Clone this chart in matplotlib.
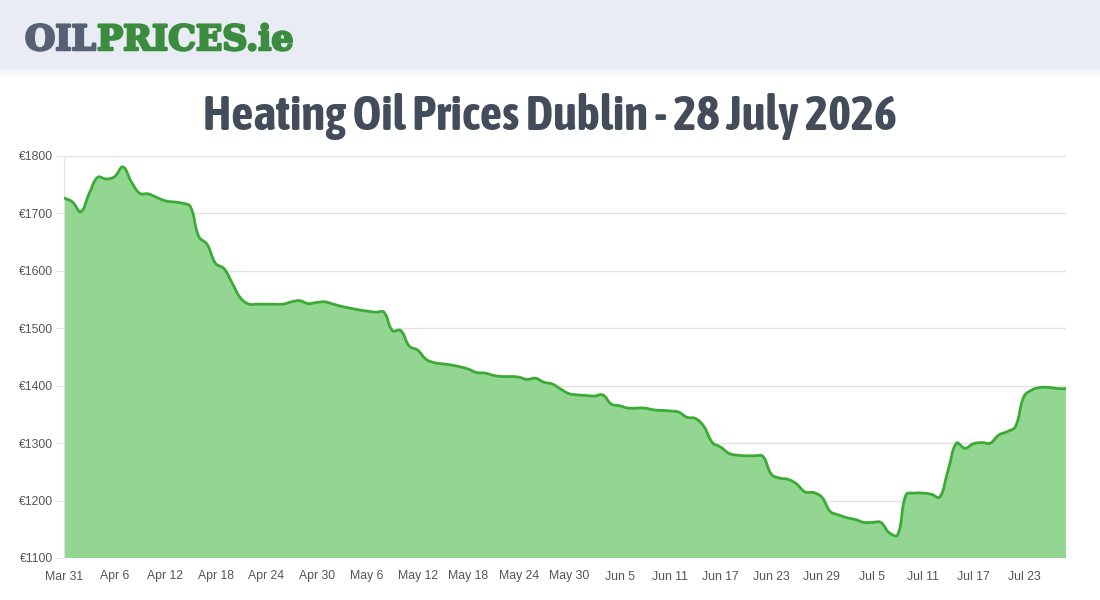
import numpy as np
import pandas as pd
import matplotlib
matplotlib.use("Agg")
import matplotlib.pyplot as plt
from matplotlib import font_manager, patheffects
from matplotlib.patches import Rectangle, PathPatch
from matplotlib.path import Path

# daily prices, Mar 31 -> Jul 28 2026
dates = pd.date_range("2026-03-31", "2026-07-28", freq="D")
prices = [
    1727, 1720, 1703, 1735, 1763, 1760, 1764, 1781, 1755, 1735,
    1734, 1728, 1722, 1720, 1718, 1712, 1660, 1646, 1613, 1604,
    1578, 1552, 1542, 1542, 1542, 1542, 1542, 1546, 1548, 1543,
    1545, 1546, 1542, 1538, 1535, 1532, 1530, 1528, 1528, 1496,
    1496, 1469, 1462, 1446, 1440, 1438, 1436, 1433, 1429, 1423,
    1422, 1418, 1416, 1416, 1415, 1411, 1413, 1406, 1403, 1394,
    1386, 1384, 1383, 1382, 1384, 1368, 1365, 1361, 1361, 1361,
    1358, 1357, 1356, 1354, 1345, 1343, 1329, 1301, 1293, 1282,
    1279, 1278, 1278, 1277, 1246, 1239, 1237, 1229, 1215, 1214,
    1206, 1181, 1175, 1170, 1167, 1162, 1162, 1162, 1144, 1140,
    1210, 1213, 1213, 1211, 1206, 1253, 1300, 1291, 1299, 1301,
    1300, 1314, 1320, 1329, 1381, 1393, 1397, 1397, 1395, 1395,
]
tick_step = 6
y_ticks = [1100, 1200, 1300, 1400, 1500, 1600, 1700, 1800]

W, H = 1100, 600
X0, X1, Y0, Y1 = 64, 1066, 156, 558  # plot area in pixels


def pick_narrow():
    # look for a condensed / narrow face among installed fonts
    for f in font_manager.fontManager.ttflist:
        n = f.name.lower()
        if ("narrow" in n or "condensed" in n) and f.weight in ("bold", 700):
            return f.name, f.stretch
    for f in font_manager.fontManager.ttflist:
        if str(f.stretch) in ("condensed", "semi-condensed", "extra-condensed") or \
                (isinstance(f.stretch, int) and f.stretch < 500):
            return f.name, f.stretch
    return "DejaVu Sans", "normal"


def smooth_path(xs, ys, sx, sy, tension=0.4):
    # chart.js style bezier through the points (distances measured in pixels)
    px, py = np.asarray(xs, float) * sx, np.asarray(ys, float) * sy
    n = len(px)
    cp_prev, cp_next = [], []
    for i in range(n):
        p0 = (px[max(i - 1, 0)], py[max(i - 1, 0)])
        p2 = (px[min(i + 1, n - 1)], py[min(i + 1, n - 1)])
        d01 = np.hypot(px[i] - p0[0], py[i] - p0[1])
        d12 = np.hypot(p2[0] - px[i], p2[1] - py[i])
        s = d01 + d12 if d01 + d12 else 1
        fa, fb = tension * d01 / s, tension * d12 / s
        cp_prev.append((px[i] - fa * (p2[0] - p0[0]), py[i] - fa * (p2[1] - p0[1])))
        cp_next.append((px[i] + fb * (p2[0] - p0[0]), py[i] + fb * (p2[1] - p0[1])))
    verts = [(px[0], py[0])]
    codes = [Path.MOVETO]
    for i in range(1, n):
        verts += [cp_next[i - 1], cp_prev[i], (px[i], py[i])]
        codes += [Path.CURVE4] * 3
    verts = [(a / sx, b / sy) for a, b in verts]
    return verts, codes


fig = plt.figure(figsize=(W / 100, H / 100), dpi=100)
fig.patch.set_facecolor("white")

# header band with soft shadow
for k in range(10):
    fig.patches.append(Rectangle((0, 1 - (70 + k) / H), 1, 1 / H, transform=fig.transFigure,
                                 facecolor="#cfd3dc", alpha=0.25 * (1 - k / 10), edgecolor="none"))
fig.patches.append(Rectangle((0, 1 - 70 / H), 1, 70 / H, transform=fig.transFigure,
                             facecolor="#e9ecf4", edgecolor="none"))

logo_font = dict(family=["DejaVu Serif"], weight="bold", size=25, va="center", ha="left")
t1 = fig.text(25 / W, 1 - 40 / H, "OIL", color="#576173", **logo_font)
fig.canvas.draw()
bb = t1.get_window_extent()
t2 = fig.text(bb.x1 / W + 1 / W, 1 - 40 / H, "PRICES.ie", color="#3b8c3f", **logo_font)
t1.set_path_effects([patheffects.withStroke(linewidth=1.8, foreground="#576173")])
t2.set_path_effects([patheffects.withStroke(linewidth=1.8, foreground="#3b8c3f")])

narrow, stretch = pick_narrow()
title = fig.text(0.5, 1 - 116 / H, "Heating Oil Prices Dublin - 28 July 2026",
                 ha="center", va="center", fontsize=34, weight="bold", color="#434c5a",
                 family=[narrow, "DejaVu Sans"], fontstretch=stretch)
fig.canvas.draw()
tw = title.get_window_extent().width
title.set_fontsize(34 * 694 / tw)

ax = fig.add_axes([X0 / W, 1 - Y1 / H, (X1 - X0) / W, (Y1 - Y0) / H])
x = np.arange(len(prices))
sx = (X1 - X0) / (len(prices) - 1)
sy = (Y1 - Y0) / 700
verts, codes = smooth_path(x, prices, sx, sy)
fill_verts = verts + [(x[-1], 1100), (x[0], 1100), verts[0]]
fill_codes = codes + [Path.LINETO, Path.LINETO, Path.CLOSEPOLY]
ax.add_patch(PathPatch(Path(fill_verts, fill_codes), facecolor="#93d692", lw=0, zorder=2))
ax.add_patch(PathPatch(Path(verts, codes), facecolor="none", edgecolor="#3aab35",
                       lw=2, joinstyle="round", zorder=3))

ax.set_xlim(0, len(prices) - 1)
ax.set_ylim(1100, 1800)
ax.set_yticks(y_ticks)
ax.set_yticklabels([f"€{v}" for v in y_ticks])
xt = x[::tick_step]
ax.set_xticks(xt)
ax.set_xticklabels([f"{d.strftime('%b')} {d.day}" for d in dates[::tick_step]])

ax.grid(axis="y", color="#e2e2e2", lw=1, zorder=1)
for s in ["top", "right", "bottom"]:
    ax.spines[s].set_visible(False)
ax.spines["left"].set_color("#e2e2e2")
ax.tick_params(axis="y", length=6, color="#e2e2e2", labelsize=8.8, labelcolor="#555555", pad=2)
ax.tick_params(axis="x", length=0, labelsize=8.8, labelcolor="#555555", pad=9)
for lab in ax.get_xticklabels() + ax.get_yticklabels():
    lab.set_family(["Liberation Sans", "DejaVu Sans"])

fig.savefig("out.png", dpi=100)
